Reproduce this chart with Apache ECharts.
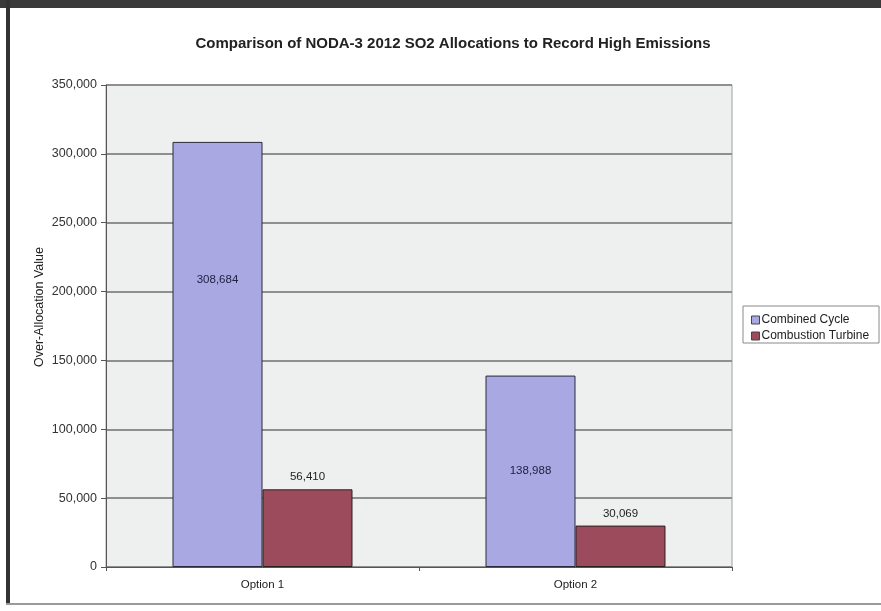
<!DOCTYPE html>
<html>
<head>
<meta charset="utf-8">
<style>
  html, body { margin: 0; padding: 0; background: #ffffff; }
  #chart { width: 881px; height: 611px; }
</style>
<script src="https://cdn.jsdelivr.net/npm/echarts@6/dist/echarts.min.js"></script>
</head>
<body>
<div id="chart"></div>
<script>
// Categories and series values
const categories = ['Option 1', 'Option 2'];
const combinedCycle = [308684, 138988];
const combustionTurbine = [56410, 30069];
const seriesNames = ['Combined Cycle', 'Combustion Turbine'];
const yTicks = { min: 0, max: 350000, interval: 50000 };

const FONT = '"Liberation Sans", Arial, sans-serif';
const fmt = v => v.toLocaleString('en-US');

// the tall bar carries its value label a little above the bar's middle
const combinedData = combinedCycle.map((v, i) =>
  i === 0 ? { value: v, label: { offset: [0, -75] } } : v);

const chart = echarts.init(document.getElementById('chart'), null, { renderer: 'canvas' });

chart.setOption({
  backgroundColor: '#ffffff',
  animation: false,
  textStyle: { fontFamily: FONT },
  title: {
    text: 'Comparison of NODA-3 2012 SO2 Allocations to Record High Emissions',
    left: 448,
    top: 31,
    textAlign: 'center',
    textStyle: { fontSize: 15, fontWeight: 'bold', color: '#222', fontFamily: FONT }
  },
  graphic: [
    // page frame around the chart
    { type: 'rect', shape: { x: 0, y: 0, width: 881, height: 8 }, style: { fill: '#3a3a3a' }, silent: true },
    { type: 'rect', shape: { x: 6, y: 0, width: 4, height: 603 }, style: { fill: '#333333' }, silent: true },
    { type: 'rect', shape: { x: 6, y: 603, width: 875, height: 2 }, style: { fill: '#9a9a9a' }, silent: true },
    // legend box
    { type: 'rect', shape: { x: 743, y: 306, width: 136, height: 37 }, style: { fill: '#ffffff', stroke: '#8a8a8a', lineWidth: 1 }, z: 0, silent: true }
  ],
  grid: {
    left: 106, right: 149, top: 85, bottom: 44,
    show: true,
    backgroundColor: '#eef0ef',
    borderColor: '#a0a0a0',
    borderWidth: 1
  },
  legend: {
    orient: 'vertical',
    left: 746,
    top: 309,
    itemWidth: 8,
    itemHeight: 8,
    itemGap: 4,
    icon: 'rect',
    data: seriesNames,
    textStyle: { fontSize: 12, color: '#222', fontFamily: FONT, padding: [0, 0, 0, -3] },
    itemStyle: { borderColor: '#444', borderWidth: 1 }
  },
  xAxis: {
    type: 'category',
    data: categories,
    axisLine: { lineStyle: { color: '#555', width: 1 } },
    axisTick: { show: true, alignWithLabel: false, length: 4, lineStyle: { color: '#555' } },
    axisLabel: { fontSize: 11.5, color: '#222', margin: 12, fontFamily: FONT }
  },
  yAxis: {
    type: 'value',
    min: yTicks.min,
    max: yTicks.max,
    interval: yTicks.interval,
    name: 'Over-Allocation Value',
    nameLocation: 'middle',
    nameGap: 60,
    nameMoveOverlap: false,
    nameRotate: 90,
    nameTextStyle: { fontSize: 12.5, color: '#222', fontFamily: FONT, padding: [0, 0, 0, 38] },
    axisLine: { show: true, lineStyle: { color: '#555', width: 1 } },
    axisTick: { show: true, length: 5, lineStyle: { color: '#555' } },
    axisLabel: { fontSize: 12.5, color: '#333', margin: 9, formatter: v => fmt(v), fontFamily: FONT },
    splitLine: { show: true, lineStyle: { color: '#8f8f8f', width: 2 } }
  },
  series: [
    {
      name: seriesNames[0],
      type: 'bar',
      data: combinedData,
      barGap: '0%',
      barCategoryGap: '42.5%',
      itemStyle: { color: '#aaa8e2', borderColor: '#2a2a3a', borderWidth: 1 },
      label: {
        show: true,
        position: 'inside',
        formatter: p => fmt(p.value),
        fontSize: 11.5,
        color: '#222244',
        fontFamily: FONT
      }
    },
    {
      name: seriesNames[1],
      type: 'bar',
      data: combustionTurbine,
      barGap: '0%',
      barCategoryGap: '42.5%',
      itemStyle: { color: '#9c4b5c', borderColor: '#2a2020', borderWidth: 1 },
      label: {
        show: true,
        position: 'top',
        distance: 6,
        formatter: p => fmt(p.value),
        fontSize: 11.5,
        color: '#222',
        fontFamily: FONT
      }
    }
  ]
});
</script>
</body>
</html>
